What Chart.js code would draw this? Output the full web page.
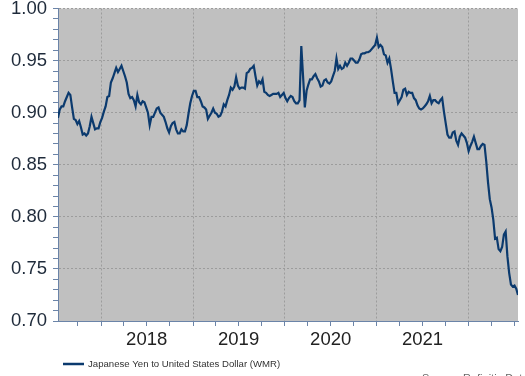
<!DOCTYPE html>
<html><head><meta charset="utf-8">
<script src="https://cdn.jsdelivr.net/npm/chart.js@4.4.1/dist/chart.umd.min.js"></script>
<style>html,body{margin:0;padding:0;background:#fff;overflow:hidden}#wrap{position:relative;width:525px;height:376px}</style>
</head><body><div id="wrap"><canvas id="c" width="525" height="376"></canvas></div>
<script>
// ---- data ----
const seriesLabel = 'Japanese Yen to United States Dollar (WMR)';
const sourceText = 'Source: Refinitiv Datastream';
const firstWeek = '2017-07-14';   // weekly observations (Fridays)
const lastWeek = '2022-07-15';
const yearLabels = ['2018', '2019', '2020', '2021'];
const yTickLabels = ['0.70', '0.75', '0.80', '0.85', '0.90', '0.95', '1.00'];
const jpyUsd = [
  0.895,0.903,0.906,0.906,0.911,0.915,0.919,0.917,0.905,0.894,
  0.893,0.889,0.892,0.886,0.879,0.880,0.878,0.880,0.887,0.896,
  0.890,0.884,0.885,0.885,0.891,0.895,0.901,0.906,0.915,0.916,
  0.929,0.933,0.938,0.943,0.939,0.942,0.945,0.940,0.935,0.929,
  0.918,0.914,0.915,0.912,0.906,0.917,0.910,0.908,0.911,0.910,
  0.905,0.900,0.888,0.896,0.896,0.900,0.904,0.905,0.900,0.898,
  0.896,0.891,0.885,0.881,0.887,0.890,0.891,0.884,0.880,0.880,
  0.884,0.882,0.882,0.888,0.899,0.909,0.916,0.921,0.921,0.915,
  0.915,0.911,0.906,0.905,0.903,0.894,0.897,0.900,0.904,0.900,
  0.899,0.896,0.897,0.901,0.908,0.906,0.912,0.917,0.924,0.922,
  0.925,0.934,0.926,0.923,0.924,0.924,0.923,0.938,0.939,0.942,
  0.943,0.945,0.935,0.926,0.930,0.928,0.932,0.920,0.919,0.917,
  0.916,0.917,0.918,0.918,0.918,0.919,0.915,0.917,0.919,0.914,
  0.911,0.914,0.916,0.915,0.911,0.909,0.909,0.912,0.964,0.935,
  0.905,0.921,0.927,0.932,0.932,0.935,0.937,0.933,0.930,0.925,
  0.926,0.931,0.932,0.929,0.928,0.930,0.935,0.940,0.952,0.942,
  0.945,0.942,0.943,0.948,0.945,0.948,0.952,0.952,0.950,0.948,
  0.948,0.951,0.956,0.957,0.957,0.958,0.958,0.959,0.961,0.963,
  0.965,0.972,0.963,0.965,0.963,0.956,0.955,0.948,0.952,0.942,
  0.930,0.919,0.919,0.909,0.912,0.915,0.922,0.923,0.917,0.920,
  0.919,0.919,0.914,0.912,0.907,0.904,0.903,0.904,0.906,0.908,
  0.911,0.916,0.909,0.912,0.912,0.910,0.909,0.912,0.914,0.901,
  0.890,0.879,0.876,0.876,0.881,0.882,0.873,0.869,0.877,0.880,
  0.878,0.876,0.871,0.863,0.868,0.872,0.877,0.871,0.865,0.865,
  0.868,0.870,0.869,0.853,0.833,0.817,0.809,0.797,0.779,0.780,
  0.769,0.767,0.771,0.783,0.786,0.762,0.746,0.735,0.733,0.734,
  0.731,0.725
];

// ---- helpers ----
function decYear(ms) {
  const d = new Date(ms), y = d.getUTCFullYear();
  const a = Date.UTC(y, 0, 1), b = Date.UTC(y + 1, 0, 1);
  return y + (ms - a) / (b - a);
}
const startMs = Date.parse(firstWeek + 'T00:00:00Z');
const endMs = Date.parse(lastWeek + 'T00:00:00Z');
const weekDates = jpyUsd.map((_, i) => startMs + i * 7 * 86400000);
const points = jpyUsd.map((v, i) => ({ x: decYear(weekDates[i]), y: v }));
const xMin = decYear(startMs), xMax = decYear(endMs);

// x ticks: quarter boundaries; year labels centred mid-year; grid at year starts
const xTickInfo = [];
for (let y = 2017; y <= 2022; y++) {
  [0, 3, 6, 9].forEach(m => {
    const v = decYear(Date.UTC(y, m, 1));
    if (v >= xMin && v <= xMax) {
      xTickInfo.push({ value: v, grid: m === 0, label: (m === 6 && yearLabels.includes(String(y))) ? String(y) : '' });
    }
  });
}
const yTickInfo = [];
for (let k = 70; k <= 100; k++) {
  const s = (k / 100).toFixed(2);
  yTickInfo.push({ value: k / 100, grid: yTickLabels.includes(s), label: yTickLabels.includes(s) ? s : '' });
}

const GRID = '#9c9c9c', AXIS = '#6b84a8', TICK = '#6b84a8';

const plotBg = {
  id: 'plotBg',
  beforeDraw(chart) {
    const { ctx, chartArea: a } = chart;
    ctx.save(); ctx.fillStyle = '#c0c0c0';
    ctx.fillRect(a.left, a.top, a.right - a.left, a.bottom - a.top);
    ctx.restore();
  }
};
const footer = {
  id: 'footer',
  afterDraw(chart) {
    const ctx = chart.ctx, ds = chart.data.datasets[0];
    ctx.save();
    ctx.strokeStyle = ds.borderColor; ctx.lineWidth = 2.5;
    ctx.beginPath(); ctx.moveTo(63, 364); ctx.lineTo(84, 364); ctx.stroke();
    ctx.fillStyle = '#333'; ctx.font = '9.6px "Liberation Sans", Arial, sans-serif';
    ctx.textBaseline = 'middle'; ctx.textAlign = 'left';
    ctx.fillText(ds.label, 88, 364.5);
    ctx.fillStyle = '#666'; ctx.font = '11px "Liberation Sans", Arial, sans-serif';
    ctx.textBaseline = 'alphabetic';
    ctx.fillText(sourceText, 422, 382);
    ctx.restore();
  }
};

new Chart(document.getElementById('c'), {
  type: 'line',
  data: {
    datasets: [{
      label: seriesLabel,
      data: points,
      borderColor: '#0b3a6e',
      borderWidth: 2.2,
      pointRadius: 0,
      tension: 0,
      fill: false
    }]
  },
  options: {
    responsive: false,
    animation: false,
    devicePixelRatio: 1,
    layout: { padding: { left: 0, right: 7, top: 8.5, bottom: 0 } },
    plugins: { legend: { display: false }, tooltip: { enabled: false } },
    scales: {
      x: {
        type: 'linear',
        min: xMin, max: xMax,
        afterBuildTicks: s => { s.ticks = xTickInfo.map(t => ({ value: t.value })); },
        afterFit: s => { s.height = 55; s.paddingLeft = 0; s.paddingRight = 0; },
        ticks: {
          autoSkip: false, maxRotation: 0, padding: 3,
          color: '#222',
          font: { family: '"Liberation Sans", Arial, sans-serif', size: 18.5 },
          callback: (v, i) => xTickInfo[i] ? xTickInfo[i].label : ''
        },
        grid: {
          color: c => (xTickInfo[c.index] && xTickInfo[c.index].grid) ? GRID : 'rgba(0,0,0,0)',
          tickColor: TICK, tickLength: 5, lineWidth: 1
        },
        border: { display: true, color: AXIS, width: 1, dash: [2, 2] }
      },
      y: {
        type: 'linear',
        min: 0.70, max: 1.00,
        afterBuildTicks: s => { s.ticks = yTickInfo.map(t => ({ value: t.value })); },
        afterFit: s => { s.width = 58; s.paddingTop = 0; s.paddingBottom = 0; },
        ticks: {
          autoSkip: false, padding: 6,
          color: '#1e2a3a',
          font: { family: '"Liberation Sans", Arial, sans-serif', size: 18.5 },
          callback: (v, i) => yTickInfo[i] ? yTickInfo[i].label : ''
        },
        grid: {
          color: c => (yTickInfo[c.index] && yTickInfo[c.index].grid) ? GRID : 'rgba(0,0,0,0)',
          tickColor: TICK, tickLength: 5, lineWidth: 1
        },
        border: { display: true, color: AXIS, width: 1, dash: [2, 2] }
      }
    }
  },
  plugins: [plotBg, footer]
});
</script>
</body></html>
